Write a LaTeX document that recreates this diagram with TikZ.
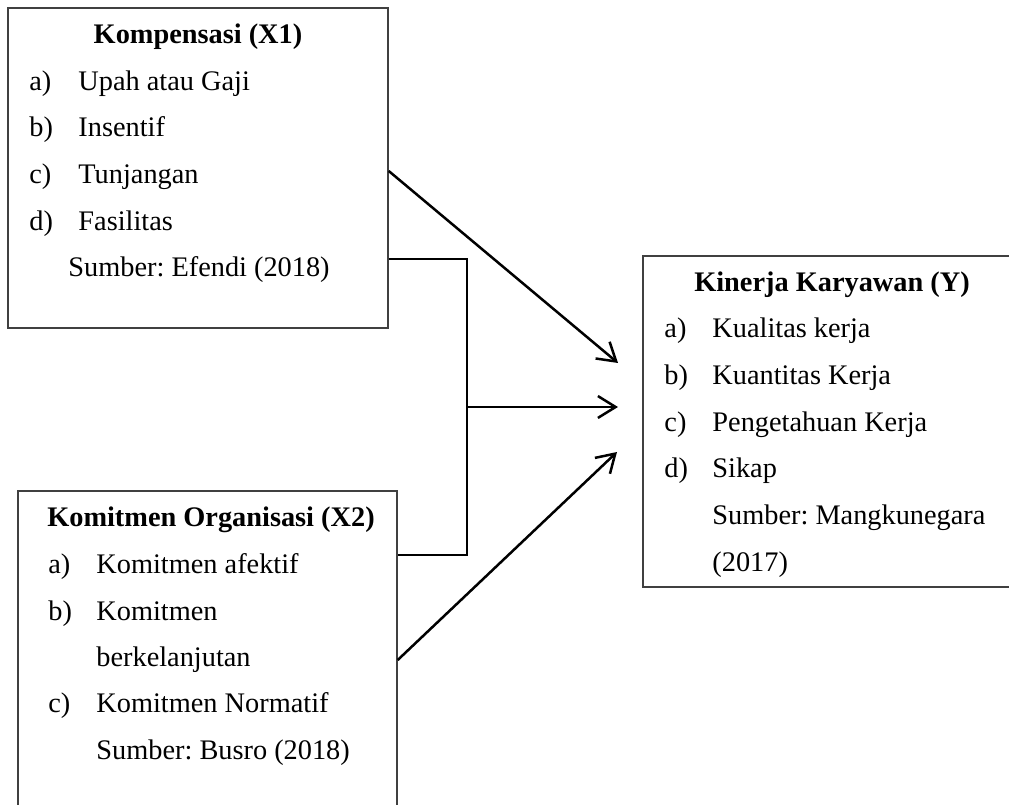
\documentclass[tikz,border=0pt]{standalone}
\usepackage{fontspec}
\setmainfont{Liberation Serif}
\usetikzlibrary{fit}
\usetikzlibrary{arrows.meta,positioning}
\frenchspacing

\begin{document}
\begin{tikzpicture}[
    x=0.48pt, y=-0.48pt,
    >={Straight Barb[length=8.5pt,width=10.5pt]},
    every node/.style={
        inner sep=0pt,
        font=\fontsize{13.6}{16}\selectfont
    },
    box/.style={
        draw=black!75,
        line width=0.7pt,
        rectangle
    },
    edge/.style={
        ->,
        line width=1.2pt
    },
    joint/.style={
        line width=1.2pt
    },
    title/.style={
        anchor=base,
        font=\fontsize{13.6}{16}\selectfont\bfseries
    },
    item/.style={
        anchor=base west
    }
]
\useasboundingbox (0,0) rectangle (1009,805);
\clip (0,0) rectangle (1009,805);

% Boxes
\node[box, fit={(8,8) (388,328)}] (x1) {};
\node[box, fit={(18,491) (397,830)}] (x2) {};
\node[box, fit={(643,256) (1021,587)}] (y) {};

% Kompensasi
\node[title] (x1t) at (198,44) {Kompensasi (X1)};
\node[item] (x1a) at (29,91) {a)};
\node[item] (x1at) at (78,91) {Upah atau Gaji};
\node[item] (x1b) at (29,137) {b)};
\node[item] (x1bt) at (78,137) {Insentif};
\node[item] (x1c) at (29,184) {c)};
\node[item] (x1ct) at (78,184) {Tunjangan};
\node[item] (x1d) at (29,231) {d)};
\node[item] (x1dt) at (78,231) {Fasilitas};
\node[item] (x1s) at (68,277) {Sumber: Efendi (2018)};

% Komitmen Organisasi
\node[title] (x2t) at (211,527) {Komitmen Organisasi (X2)};
\node[item] (x2a) at (48,574) {a)};
\node[item] (x2at) at (96,574) {Komitmen afektif};
\node[item] (x2b) at (48,621) {b)};
\node[item] (x2bt) at (96,621) {Komitmen};
\node[item] (x2bu) at (96,667) {berkelanjutan};
\node[item] (x2c) at (48,713) {c)};
\node[item] (x2ct) at (96,713) {Komitmen Normatif};
\node[item] (x2s) at (96,760) {Sumber: Busro (2018)};

% Kinerja Karyawan
\node[title] (yt) at (832,292) {Kinerja Karyawan (Y)};
\node[item] (ya) at (664,338) {a)};
\node[item] (yat) at (712,338) {Kualitas kerja};
\node[item] (yb) at (664,385) {b)};
\node[item] (ybt) at (712,385) {Kuantitas Kerja};
\node[item] (yc) at (664,432) {c)};
\node[item] (yct) at (712,432) {Pengetahuan Kerja};
\node[item] (yd) at (664,478) {d)};
\node[item] (ydt) at (712,478) {Sikap};
\node[item] (ys) at (712,525) {Sumber: Mangkunegara};
\node[item] (ysy) at (712,572) {(2017)};

% Edges
\coordinate (in1) at (618,363);
\coordinate (in2) at (618,407);
\coordinate (in3) at (617,452);
\coordinate (jt) at (467,259);
\coordinate (j) at (467,407);
\coordinate (jb) at (467,555);

\draw[edge] (x1.east |- 0,171) -- (in1);
\draw[joint] (x1.east |- jt) -- (jt) -- (jb) -- (x2.east |- jb);
\draw[edge] (j) -- (in2);
\draw[edge] (x2.east |- 0,660) -- (in3);

\end{tikzpicture}
\end{document}
